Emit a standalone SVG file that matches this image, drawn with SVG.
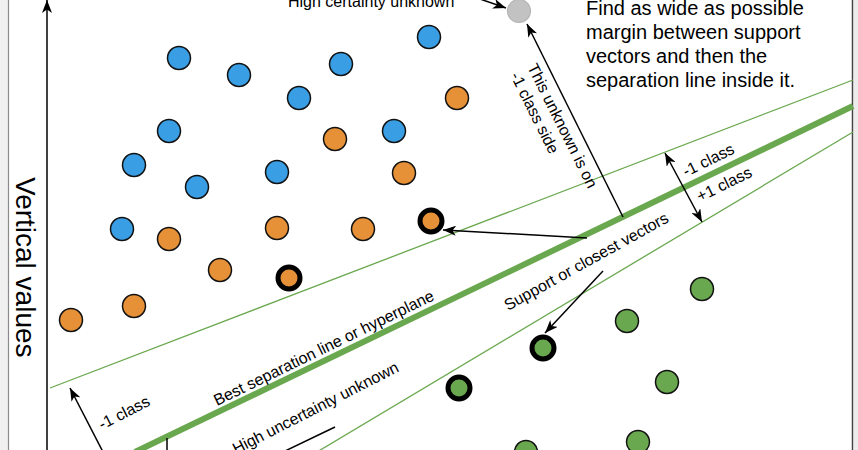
<svg xmlns="http://www.w3.org/2000/svg" width="858" height="450" viewBox="0 0 858 450">
<style>
text{font-family:"Liberation Sans",Arial,sans-serif;fill:#000}
.lbl{font-size:16px}
.big{font-size:20px}
.blue{fill:#3a9ee4;stroke:#111;stroke-width:1.5}
.orange{fill:#e69138;stroke:#111;stroke-width:1.5}
.green{fill:#6aa84f;stroke:#111;stroke-width:1.5}
.sv{stroke:#000;stroke-width:5}
.sv.o{fill:#e69138}
.sv.g{fill:#6aa84f}
.thin{stroke:#6aa84f;stroke-width:1.3;fill:none}
.thick{stroke:#6aa84f;stroke-width:6;fill:none}
.arr{stroke:#000;stroke-width:1.5;fill:none;marker-end:url(#ah)}
.plain{stroke:#000;stroke-width:1.5;fill:none}
</style>
<defs>
<marker id="ah" markerUnits="userSpaceOnUse" markerWidth="14" markerHeight="10" refX="13" refY="5" orient="auto">
<path d="M0,0 L13,5 L0,10 L3.5,5 Z" fill="#000"/>
</marker>
<marker id="ahs" markerUnits="userSpaceOnUse" markerWidth="14" markerHeight="10" refX="13" refY="5" orient="auto-start-reverse">
<path d="M0,0 L13,5 L0,10 L3.5,5 Z" fill="#000"/>
</marker>
</defs>
<rect width="858" height="450" fill="#fff"/>
<rect x="0" y="0" width="8" height="450" fill="#f0f0f0"/>
<line x1="8.5" y1="0" x2="8.5" y2="450" stroke="#8a8a8a" stroke-width="1.2"/>
<rect x="854" y="0" width="4" height="450" fill="#ececec"/>
<line x1="852.5" y1="0" x2="852.5" y2="450" stroke="#444" stroke-width="1.5"/>

<g id="lines">
<line class="thin" x1="50" y1="388" x2="853" y2="80"/>
<line class="thick" x1="135" y1="452" x2="853" y2="106"/>
<line class="thin" x1="317" y1="452" x2="853" y2="132"/>
</g>

<g id="connectors">
<line class="arr" x1="47" y1="452" x2="47" y2="0"/>
<line class="arr" x1="480" y1="-1" x2="506" y2="8"/>
<line class="arr" x1="623" y1="217" x2="527" y2="24"/>
<line class="arr" x1="587" y1="238" x2="443" y2="230"/>
<line stroke="#000" stroke-width="1.5" marker-start="url(#ahs)" marker-end="url(#ahs)" x1="665" y1="153" x2="702" y2="222"/>
<line class="arr" x1="603" y1="271" x2="545" y2="333"/>
<line class="arr" x1="103" y1="452" x2="70" y2="388"/>
<line class="plain" x1="335" y1="427" x2="283" y2="452"/>
<line class="plain" x1="167" y1="438" x2="167" y2="452"/>
</g>

<g id="blue-points">
<circle class="blue" cx="179" cy="58" r="11.5"/>
<circle class="blue" cx="239" cy="75" r="11.5"/>
<circle class="blue" cx="299" cy="98" r="11.5"/>
<circle class="blue" cx="341" cy="64" r="11.5"/>
<circle class="blue" cx="429" cy="37" r="11.5"/>
<circle class="blue" cx="169" cy="131" r="11.5"/>
<circle class="blue" cx="134" cy="165" r="11.5"/>
<circle class="blue" cx="197" cy="187" r="11.5"/>
<circle class="blue" cx="277" cy="172" r="11.5"/>
<circle class="blue" cx="394" cy="131" r="11.5"/>
<circle class="blue" cx="122" cy="229" r="11.5"/>
</g>

<g id="orange-points">
<circle class="orange" cx="457" cy="98" r="11.5"/>
<circle class="orange" cx="335" cy="139" r="11.5"/>
<circle class="orange" cx="404" cy="173" r="11.5"/>
<circle class="orange" cx="277" cy="228" r="11.5"/>
<circle class="orange" cx="363" cy="229" r="11.5"/>
<circle class="orange" cx="169" cy="239" r="11.5"/>
<circle class="orange" cx="220" cy="270" r="11.5"/>
<circle class="orange" cx="134" cy="306" r="11.5"/>
<circle class="orange" cx="71" cy="320" r="11.5"/>
</g>

<g id="orange-support">
<circle class="sv o" cx="289" cy="278" r="11"/>
<circle class="sv o" cx="431" cy="221" r="11"/>
</g>

<g id="green-points">
<circle class="green" cx="702" cy="289" r="11.5"/>
<circle class="green" cx="627" cy="321" r="11.5"/>
<circle class="green" cx="667" cy="382" r="11.5"/>
<circle class="green" cx="638" cy="442" r="11.5"/>
<circle class="green" cx="526" cy="452" r="11.5"/>
</g>

<g id="green-support">
<circle class="sv g" cx="543" cy="348" r="11"/>
<circle class="sv g" cx="459" cy="388" r="11"/>
</g>

<g id="unknown">
<circle cx="519" cy="11" r="11.5" fill="#c2c2c2" stroke="#b5b5b5" stroke-width="1.2"/>
</g>

<g id="labels">
<text x="16" y="177" font-size="28" transform="rotate(90 16 177)">Vertical values</text>
<text class="lbl" x="288" y="7">High certainty unknown</text>
<text class="big" x="586" y="15">Find as wide as possible</text>
<text class="big" x="586" y="39">margin between support</text>
<text class="big" x="586" y="63">vectors and then the</text>
<text class="big" x="586" y="87">separation line inside it.</text>
<g transform="rotate(63.4 527 67)">
<text class="lbl" x="527" y="67">This unknown is on</text>
<text class="lbl" x="527" y="86">-1 class side</text>
</g>
<text class="lbl" x="686" y="177" transform="rotate(-26 686 177)">-1 class</text>
<text class="lbl" x="700" y="202" transform="rotate(-26 700 202)">+1 class</text>
<text class="lbl" x="508" y="311" transform="rotate(-29 508 311)" font-size="16.5">Support or closest vectors</text>
<text class="lbl" x="217" y="406" transform="rotate(-26 217 406)">Best separation line or hyperplane</text>
<text class="lbl" x="400" y="371" text-anchor="end" transform="rotate(-27 400 371)">High uncertainty unknown</text>
<text class="lbl" x="102" y="430" transform="rotate(-27 102 430)">-1 class</text>
</g>
</svg>
